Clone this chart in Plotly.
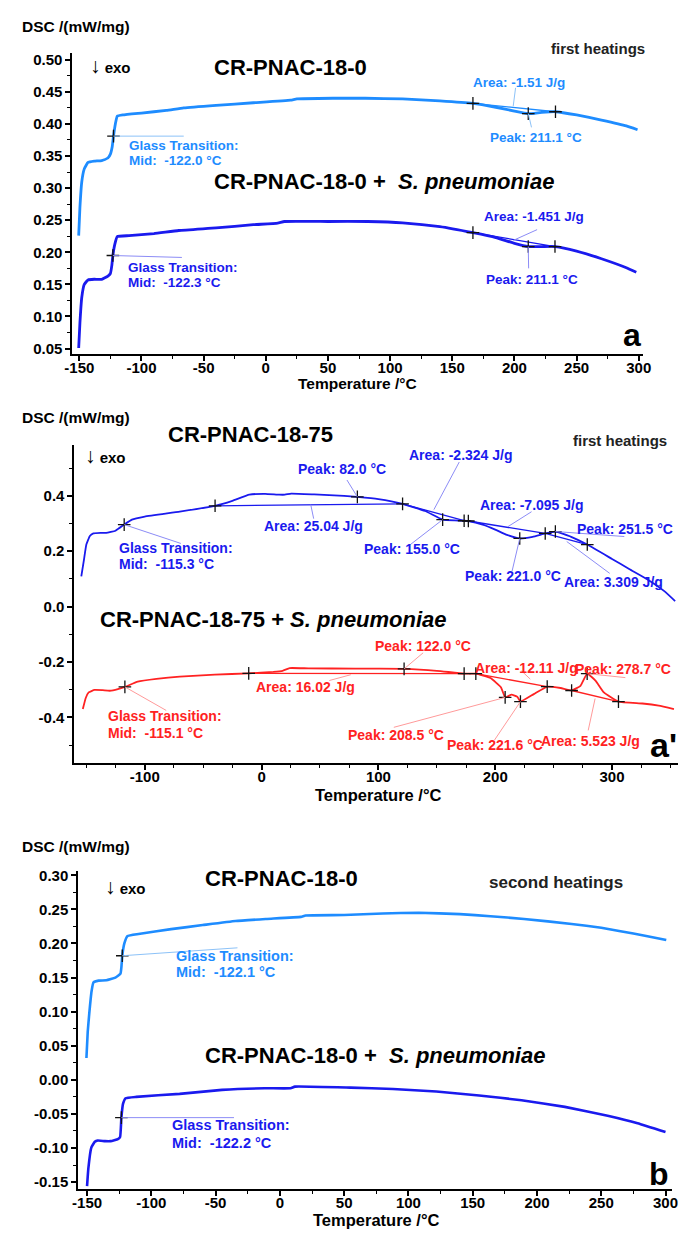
import plotly.graph_objects as go

# ------------------------------------------------------------------ data
# Panel a (first heatings) - CR-PNAC-18-0 (light blue)
a1_T = [-150.5, -149.5, -148, -146, -143, -138, -132, -127, -125, -123.5, -122.5, -121, -119.5,
        -115, -100, -80, -66, -40, -10, 20, 25, 54, 80, 110, 140, 166.6, 185, 200, 211.1, 222,
        233, 250, 270, 290, 299]
a1_dsc = [0.226, 0.27, 0.31, 0.33, 0.340, 0.342, 0.343, 0.347, 0.353, 0.365, 0.381, 0.400, 0.412,
          0.414, 0.417, 0.421, 0.425, 0.429, 0.433, 0.437, 0.439, 0.440, 0.440, 0.439, 0.436, 0.432,
          0.426, 0.420, 0.416, 0.418, 0.419, 0.414, 0.406, 0.397, 0.391]
a1_cross_T = [-122.5, 166.6, 211.1, 233]
a1_cross_dsc = [0.381, 0.432, 0.416, 0.419]
a1_base_T = [166.6, 233]
a1_base_dsc = [0.432, 0.419]

# Panel a - CR-PNAC-18-0 + S. pneumoniae (dark blue)
a2_T = [-150.5, -149.5, -148, -146, -143, -138, -132, -127, -125, -123.8, -123, -121.5, -119.5,
        -110, -90, -70, -40, -10, 9.6, 15, 50, 82, 110, 140, 166.6, 185, 200, 211.1, 222, 233,
        250, 270, 290, 298]
a2_dsc = [0.051, 0.09, 0.13, 0.150, 0.157, 0.158, 0.158, 0.163, 0.167, 0.18, 0.195, 0.212, 0.2245,
          0.226, 0.229, 0.234, 0.238, 0.243, 0.2455, 0.248, 0.248, 0.248, 0.246, 0.240, 0.2306,
          0.223, 0.214, 0.209, 0.209, 0.209, 0.202, 0.190, 0.176, 0.169]
a2_cross_T = [-123, 166.6, 211.1, 232.6]
a2_cross_dsc = [0.195, 0.2306, 0.209, 0.209]
a2_base_T = [166.6, 232.6]
a2_base_dsc = [0.2306, 0.209]

# Panel a' (first heatings) - CR-PNAC-18-75 (blue)
c1_T = [-154.3, -152, -150, -147, -144, -138, -133, -125, -117.6, -111, -100, -70, -39.8, -25,
        -10.5, 3, 15, 20, 25.4, 45, 70.6, 82, 100, 120.7, 140, 155, 165, 173.4, 177, 190, 200,
        210, 221, 232, 242.8, 251.5, 265, 278.8, 300, 315, 330, 345, 354]
c1_dsc = [0.109, 0.17, 0.224, 0.255, 0.264, 0.266, 0.266, 0.274, 0.296, 0.314, 0.325, 0.343,
          0.364, 0.382, 0.404, 0.407, 0.404, 0.404, 0.408, 0.405, 0.400, 0.396, 0.388, 0.371,
          0.345, 0.314, 0.311, 0.310, 0.309, 0.295, 0.278, 0.259, 0.246, 0.252, 0.264, 0.271,
          0.252, 0.224, 0.172, 0.135, 0.099, 0.055, 0.02]
c1_cross_T = [-117.6, -39.8, 82, 120.7, 155, 173.4, 177, 221, 242.8, 251.5, 278.8]
c1_cross_dsc = [0.296, 0.364, 0.396, 0.371, 0.314, 0.310, 0.309, 0.246, 0.264, 0.271, 0.224]
c1_base_T = [[-39.8, 120.7], [120.7, 173.4], [177, 242.8], [242.8, 278.8]]
c1_base_dsc = [[0.364, 0.371], [0.371, 0.310], [0.309, 0.264], [0.264, 0.224]]

# Panel a' - CR-PNAC-18-75 + S. pneumoniae (red)
c2_T = [-153, -150.5, -148, -143, -136, -130, -123, -117, -106, -90, -70, -40, -11, 10, 18, 24,
        40, 80, 122, 150, 173.4, 183.4, 196, 205, 208.5, 214, 219, 221.6, 233, 244.5, 256, 265.4,
        273, 278.7, 286, 293, 305.5, 326, 340, 353]
c2_dsc = [-0.37, -0.33, -0.31, -0.301, -0.302, -0.304, -0.298, -0.29, -0.271, -0.261, -0.253,
          -0.246, -0.241, -0.236, -0.232, -0.222, -0.223, -0.224, -0.225, -0.232, -0.242, -0.242,
          -0.258, -0.292, -0.328, -0.318, -0.326, -0.343, -0.316, -0.289, -0.294, -0.303, -0.286,
          -0.242, -0.268, -0.31, -0.343, -0.35, -0.358, -0.37]
c2_cross_T = [-117, -11, 122, 173.4, 183.4, 208.5, 221.6, 244.5, 265.4, 278.7, 305.5]
c2_cross_dsc = [-0.29, -0.241, -0.225, -0.242, -0.242, -0.328, -0.343, -0.289, -0.303, -0.242, -0.343]
c2_base_T = [[-11, 173.4], [183.4, 244.5], [265.4, 305.5]]
c2_base_dsc = [[-0.241, -0.242], [-0.242, -0.289], [-0.303, -0.343]]

# Panel b (second heatings) - CR-PNAC-18-0 (light blue)
b1_T = [-150.5, -149.5, -148.3, -146.5, -145, -141, -135, -128, -124, -123.3, -122.6, -121,
        -118.5, -110, -84.6, -60, -34.5, -10, 16.4, 20, 50, 80, 108, 140, 163.8, 190, 227, 250,
        265, 285, 300.6]
b1_dsc = [0.032, 0.07, 0.097, 0.13, 0.143, 0.1455, 0.146, 0.150, 0.1557, 0.165, 0.182, 0.200,
          0.211, 0.214, 0.221, 0.227, 0.233, 0.236, 0.239, 0.241, 0.2417, 0.244, 0.245, 0.243,
          0.240, 0.236, 0.2286, 0.223, 0.218, 0.211, 0.205]
b1_cross_T = [-122.6]
b1_cross_dsc = [0.182]

# Panel b - CR-PNAC-18-0 + S. pneumoniae (dark blue)
b2_T = [-150, -149, -146.7, -144, -141.7, -136, -131.7, -126, -124.3, -123.3, -122, -120, -111.7,
        -78, -45, -11.7, 8.3, 11.7, 55, 88, 121.7, 155, 188, 221.7, 255, 278.3, 300]
b2_dsc = [-0.156, -0.13, -0.0995, -0.091, -0.089, -0.090, -0.090, -0.087, -0.084, -0.0555,
          -0.035, -0.027, -0.025, -0.0206, -0.0148, -0.0124, -0.0124, -0.010, -0.0115, -0.0134,
          -0.0172, -0.023, -0.030, -0.0397, -0.0526, -0.0636, -0.0766]
b2_cross_T = [-123.3]
b2_cross_dsc = [-0.0555]

# tick labels
a_xticks = [-150, -100, -50, 0, 50, 100, 150, 200, 250, 300]
a_yticks = [0.05, 0.10, 0.15, 0.20, 0.25, 0.30, 0.35, 0.40, 0.45, 0.50]
c_xticks = [-100, 0, 100, 200, 300]
c_yticks = [-0.4, -0.2, 0.0, 0.2, 0.4]
b_xticks = [-150, -100, -50, 0, 50, 100, 150, 200, 250, 300]
b_yticks = [-0.15, -0.10, -0.05, 0.00, 0.05, 0.10, 0.15, 0.20, 0.25, 0.30]

# ------------------------------------------------------------------ style
LB = "#1E8CFF"
DB = "#1A1AEE"
RD = "#FF2222"
LB_L = "#8CC2F8"
DB_L = "#8C8CF6"
RD_L = "#FF9A9A"
FONT = "Arial, Liberation Sans, sans-serif"
W, H = 688, 1234
EXO = "<span style='font-size:21px'>↓</span><b> exo</b>"

fig = go.Figure()


def axn(a):
    return ("x" + a, "y" + a)


def curve(T, v, color, width, a):
    xa, ya = axn(a)
    fig.add_trace(go.Scatter(x=T, y=v, mode="lines", xaxis=xa, yaxis=ya, hoverinfo="skip",
                             line=dict(color=color, width=width, shape="spline", smoothing=0.35)))


def base(T, v, color, a):
    xa, ya = axn(a)
    fig.add_trace(go.Scatter(x=T, y=v, mode="lines", xaxis=xa, yaxis=ya, hoverinfo="skip",
                             line=dict(color=color, width=1.3)))


def crosses(T, v, a):
    xa, ya = axn(a)
    fig.add_trace(go.Scatter(x=T, y=v, mode="markers", xaxis=xa, yaxis=ya, hoverinfo="skip",
                             marker=dict(symbol="cross-thin", size=9,
                                         line=dict(color="#111111", width=1.3))))


# panel a
curve(a1_T, a1_dsc, LB, 2.8, "")
base(a1_base_T, a1_base_dsc, LB, "")
crosses(a1_cross_T, a1_cross_dsc, "")
curve(a2_T, a2_dsc, DB, 2.8, "")
base(a2_base_T, a2_base_dsc, DB, "")
crosses(a2_cross_T, a2_cross_dsc, "")
# panel a'
curve(c1_T, c1_dsc, DB, 1.8, "2")
for t, v in zip(c1_base_T, c1_base_dsc):
    base(t, v, DB, "2")
crosses(c1_cross_T, c1_cross_dsc, "2")
curve(c2_T, c2_dsc, RD, 1.8, "2")
for t, v in zip(c2_base_T, c2_base_dsc):
    base(t, v, RD, "2")
crosses(c2_cross_T, c2_cross_dsc, "2")
# panel b
curve(b1_T, b1_dsc, LB, 2.6, "3")
crosses(b1_cross_T, b1_cross_dsc, "3")
curve(b2_T, b2_dsc, DB, 2.6, "3")
crosses(b2_cross_T, b2_cross_dsc, "3")

# ------------------------------------------------------------------ annotations
anns = []


def txt(s, x, y, ref, size, color="black", xanchor="left"):
    xr, yr = ref
    anns.append(dict(text=s, x=x, y=y, xref=xr, yref=yr, showarrow=False, xanchor=xanchor,
                     yanchor="middle", font=dict(family=FONT, size=size, color=color)))


def ptxt(s, px, py, size, xanchor="left", color="black"):
    anns.append(dict(text=s, x=px / W, y=1 - py / H, xref="paper", yref="paper",
                     showarrow=False, xanchor=xanchor, yanchor="middle",
                     font=dict(family=FONT, size=size, color=color)))


A, C, B = ("x", "y"), ("x2", "y2"), ("x3", "y3")

# panel a
ptxt("<b>DSC /(mW/mg)</b>", 12, 22, 15.5)
ptxt("<b>Temperature /°C</b>", 358, 381, 15.5, "center")
ptxt("<b>first heatings</b>", 554, 44, 15, "left", "#222222")
txt(EXO, -143, 0.4905, A, 15)
txt("<b>CR-PNAC-18-0</b>", -43.5, 0.488, A, 22)
txt("<b>CR-PNAC-18-0 +  <i>S. pneumoniae</i></b>", -43.5, 0.310, A, 22)
txt("<b>Glass Transition:</b>", -111.5, 0.3669, A, 13.5, LB)
txt("<b>Mid:  -122.0 °C</b>", -111.5, 0.3437, A, 13.5, LB)
txt("<b>Area: -1.51 J/g</b>", 165, 0.4644, A, 13.5, LB)
txt("<b>Peak: 211.1 °C</b>", 179, 0.3793, A, 13.5, LB)
txt("<b>Glass Transition:</b>", -112.3, 0.1765, A, 13.5, DB)
txt("<b>Mid:  -122.3 °C</b>", -112.3, 0.1533, A, 13.5, DB)
txt("<b>Area: -1.451 J/g</b>", 173.6, 0.2554, A, 13.5, DB)
txt("<b>Peak: 211.1 °C</b>", 175.2, 0.1579, A, 13.5, DB)
txt("<b>a</b>", 285.5, 0.071, A, 32)

# panel a'
ptxt("<b>DSC /(mW/mg)</b>", 12, 415, 15.5)
ptxt("<b>Temperature /°C</b>", 379, 795, 16.5, "center")
ptxt("<b>CR-PNAC-18-75</b>", 162, 432, 22)
ptxt("<b>first heatings</b>", 576, 438, 15, "left", "#222222")
txt(EXO, -152.7, 0.547, C, 15)
txt("<b>Peak: 82.0 °C</b>", 29.6, 0.497, C, 14, DB)
txt("<b>Area: -2.324 J/g</b>", 124.9, 0.547, C, 14, DB)
txt("<b>Area: 25.04 J/g</b>", 0.3, 0.292, C, 14, DB)
txt("<b>Glass Transition:</b>", -123.4, 0.21, C, 14, DB)
txt("<b>Mid:  -115.3 °C</b>", -123.4, 0.1525, C, 14, DB)
txt("<b>Peak: 155.0 °C</b>", 85.6, 0.2063, C, 14, DB)
txt("<b>Area: -7.095 J/g</b>", 185.1, 0.3677, C, 14, DB)
txt("<b>Peak: 251.5 °C</b>", 268.7, 0.2816, C, 14, DB)
txt("<b>Peak: 221.0 °C</b>", 172.6, 0.1094, C, 14, DB)
txt("<b>Area: 3.309 J/g</b>", 257, 0.088, C, 14, DB)
txt("<b>CR-PNAC-18-75 + <i>S. pneumoniae</i></b>", -140.1, -0.045, C, 22)
txt("<b>Peak: 122.0 °C</b>", 95.7, -0.1417, C, 14, RD)
txt("<b>Area: -12.11 J/g</b>", 180.9, -0.2206, C, 14, RD)
txt("<b>Peak: 278.7 °C</b>", 267, -0.224, C, 14, RD)
txt("<b>Area: 16.02 J/g</b>", -6.4, -0.292, C, 14, RD)
txt("<b>Glass Transition:</b>", -133.4, -0.396, C, 14, RD)
txt("<b>Mid:  -115.1 °C</b>", -133.4, -0.457, C, 14, RD)
txt("<b>Peak: 208.5 °C</b>", 72.2, -0.4646, C, 14, RD)
txt("<b>Peak: 221.6 °C</b>", 156.7, -0.50, C, 14, RD)
txt("<b>Area: 5.523 J/g</b>", 237.8, -0.486, C, 14, RD)
txt("<b>a'</b>", 331, -0.50, C, 34)

# panel b
ptxt("<b>DSC /(mW/mg)</b>", 12, 847, 15.5)
ptxt("<b>Temperature /°C</b>", 377, 1223, 16.5, "center")
txt(EXO, -137.8, 0.284, B, 15)
txt("<b>CR-PNAC-18-0</b>", -59.6, 0.2956, B, 22)
txt("<b>second heatings</b>", 160.8, 0.29, B, 17, "#222222")
txt("<b>Glass Transition:</b>", -82.4, 0.182, B, 14.5, LB)
txt("<b>Mid:  -122.1 °C</b>", -82.4, 0.1586, B, 14.5, LB)
txt("<b>CR-PNAC-18-0 +  <i>S. pneumoniae</i></b>", -59.6, 0.0361, B, 22)
txt("<b>Glass Transition:</b>", -85.4, -0.0659, B, 14.5, DB)
txt("<b>Mid:  -122.2 °C</b>", -85.4, -0.0921, B, 14.5, DB)
txt("<b>b</b>", 285.4, -0.1388, B, 32)

# leader lines (annotation pointers)
leaders = [
    ("", -122.5, 0.381, -66, 0.381, LB_L),
    ("", 200.9, 0.4562, 199.0, 0.4277, LB_L),
    ("", 211.1, 0.4164, 213.7, 0.3947, LB_L),
    ("", -123, 0.195, -67.5, 0.192, DB_L),
    ("", 199.2, 0.2187, 218.2, 0.2353, DB_L),
    ("", 211.1, 0.209, 211.4, 0.175, DB_L),
    ("2", 73.1, 0.457, 82, 0.396, DB_L),
    ("2", 169.2, 0.522, 147.5, 0.35, DB_L),
    ("2", 42.1, 0.368, 44.6, 0.3175, DB_L),
    ("2", -117.6, 0.296, -69.1, 0.228, DB_L),
    ("2", 127.4, 0.224, 155, 0.314, DB_L),
    ("2", 231.1, 0.3426, 211, 0.289, DB_L),
    ("2", 251.5, 0.271, 310.5, 0.253, DB_L),
    ("2", 214.4, 0.1274, 221, 0.246, DB_L),
    ("2", 261.2, 0.235, 298, 0.12, DB_L),
    ("2", 138.3, -0.167, 122, -0.225, RD_L),
    ("2", 222.5, -0.232, 230, -0.262, RD_L),
    ("2", 278.7, -0.242, 311.4, -0.2565, RD_L),
    ("2", 58, -0.267, 76.4, -0.246, RD_L),
    ("2", -117, -0.29, -81.6, -0.375, RD_L),
    ("2", 113.2, -0.436, 208.5, -0.328, RD_L),
    ("2", 199.3, -0.4825, 221.6, -0.343, RD_L),
    ("2", 279.6, -0.447, 285.5, -0.332, RD_L),
    ("3", -122.6, 0.182, -33, 0.1936, LB_L),
    ("3", -123.3, -0.0555, -35.7, -0.0555, DB_L),
]
shapes = []
for a, x0, y0, x1, y1, col in leaders:
    shapes.append(dict(type="line", xref="x" + a, yref="y" + a, x0=x0, y0=y0, x1=x1, y1=y1,
                       line=dict(color=col, width=1)))


# ------------------------------------------------------------------ axes
def fmt(v, d):
    return f"{v:.{d}f}"


def xax(dom, rng, ticks, minor_d, anchor):
    return dict(domain=dom, range=rng, anchor=anchor, showline=True, linecolor="black",
                linewidth=2, showgrid=False, zeroline=False, ticks="outside", ticklen=5,
                tickwidth=1.5, tickcolor="black", tickmode="array", tickvals=ticks,
                ticktext=[str(t) for t in ticks], ticklabelstandoff=-6,
                tickfont=dict(family=FONT, size=15, color="black", weight="bold"),
                minor=dict(ticks="outside", ticklen=3, tickwidth=1.2, tickcolor="black",
                           tickmode="linear", tick0=0, dtick=minor_d), fixedrange=True)


def yax(dom, rng, ticks, d, minor_d, anchor):
    return dict(domain=dom, range=rng, anchor=anchor, showline=True, linecolor="black",
                linewidth=2, showgrid=False, zeroline=False, ticks="outside", ticklen=5,
                tickwidth=1.5, tickcolor="black", tickmode="array", tickvals=ticks,
                ticktext=[fmt(t, d) for t in ticks],
                tickfont=dict(family=FONT, size=15, color="black", weight="bold"),
                minor=dict(ticks="outside", ticklen=3, tickwidth=1.2, tickcolor="black",
                           tickmode="linear", tick0=0, dtick=minor_d), fixedrange=True)


fig.update_layout(
    width=W, height=H, margin=dict(l=0, r=0, t=0, b=0),
    paper_bgcolor="white", plot_bgcolor="white", showlegend=False,
    xaxis=xax([66 / W, 650 / W], [-155.5, 303.3], a_xticks, 25, "y"),
    yaxis=yax([1 - 351 / H, 1 - 48 / H], [0.042, 0.511], a_yticks, 2, 0.025, "x"),
    xaxis2=xax([68 / W, 686 / W], [-160.2, 356.5], c_xticks, 25, "y2"),
    yaxis2=yax([1 - 763 / H, 1 - 443 / H], [-0.565, 0.583], c_yticks, 1, 0.1, "x2"),
    xaxis3=xax([72 / W, 680 / W], [-156.8, 305.2], b_xticks, 25, "y3"),
    yaxis3=yax([1 - 1192 / H, 1 - 872 / H], [-0.1606, 0.3058], b_yticks, 2, 0.025, "x3"),
    annotations=anns, shapes=shapes,
)

fig.write_html("out.html")
